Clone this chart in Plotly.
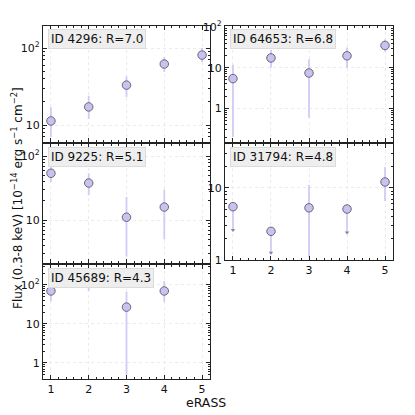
import plotly.graph_objects as go

# ---------------- data ----------------
ids = ["4296", "64653", "9225", "31794", "45689"]
rvals = ["7.0", "6.8", "5.1", "4.8", "4.3"]

erass_1 = [1, 2, 3, 4, 5]
flux_1 = [11.3, 17.2, 33, 62, 81]
lo_1 = [7.0, 12, 23, 49, 66]
hi_1 = [17, 24, 43, 76, 100]
ul_1 = [False, False, False, False, False]

erass_2 = [1, 2, 3, 4, 5]
flux_2 = [5.4, 17.3, 7.4, 19.5, 35]
lo_2 = [0.2, 10, 0.6, 10, 25]
hi_2 = [11.8, 27, 16, 31, 49]
ul_2 = [False, False, False, False, False]

erass_3 = [1, 2, 3, 4]
flux_3 = [54, 38, 11.1, 16]
lo_3 = [39, 24.5, 2.7, 5]
hi_3 = [77, 54, 23, 30]
ul_3 = [False, False, False, False]

erass_4 = [1, 2, 3, 4, 5]
flux_4 = [5.5, 2.5, 5.3, 5.1, 12.1]
lo_4 = [2.6, 1.26, 1.1, 2.4, 6.6]
hi_4 = [5.5, 2.5, 11, 5.1, 19.6]
ul_4 = [True, True, False, True, False]

erass_5 = [1, 2, 3, 4]
flux_5 = [70, 112, 27, 70]
lo_5 = [38, 70, 0.5, 36]
hi_5 = [112, 180, 66, 126]
ul_5 = [False, False, False, False]

y_ticks = [[10, 100], [1, 10, 100], [10, 100], [1, 10], [1, 10, 100]]
y_ticktext = [["10", "10<sup>2</sup>"], ["1", "10", "10<sup>2</sup>"],
              ["10", "10<sup>2</sup>"], ["1", "10"], ["1", "10", "10<sup>2</sup>"]]
x_ticks = [1, 2, 3, 4, 5]
# --------------------------------------

# page body has an 8px default margin; size the figure so it fits the window
OFF = 8
W = H = 415 - OFF
def px_x(a, b):
    return [(a - OFF) / W, (b - OFF) / W]
def px_y(top, bot):
    return [1 - (bot - OFF) / H, 1 - (top - OFF) / H]
def pxx(a):
    return (a - OFF) / W
def pxy(a):
    return 1 - (a - OFF) / H

domains = [
    (px_x(43, 210), px_y(26, 142)),
    (px_x(225, 393), px_y(26, 142)),
    (px_x(43, 210), px_y(144, 263)),
    (px_x(225, 393), px_y(144, 260)),
    (px_x(43, 210), px_y(265, 379)),
]
yranges = [[0.78, 2.286], [-0.82, 2.02], [0.33, 2.19], [0.0, 1.61], [-0.41, 2.51]]
show_xlabels = [False, False, False, True, True]

series = [
    (erass_1, flux_1, lo_1, hi_1, ul_1),
    (erass_2, flux_2, lo_2, hi_2, ul_2),
    (erass_3, flux_3, lo_3, hi_3, ul_3),
    (erass_4, flux_4, lo_4, hi_4, ul_4),
    (erass_5, flux_5, lo_5, hi_5, ul_5),
]

FONT = "DejaVu Sans"
AX = "#222222"
ERR = "#d2cbf8"
MFILL = "#cbc1f0"
MEDGE = "#5a5a6a"
GRID = "#ebebeb"

fig = go.Figure()
layout = dict(
    width=W, height=H,
    margin=dict(l=0, r=0, t=0, b=0, autoexpand=False),
    paper_bgcolor="white", plot_bgcolor="white",
    showlegend=False,
    font=dict(family=FONT, size=11, color="#111111"),
    annotations=[],
)

for i, (xs, fs, los, his, uls) in enumerate(series):
    n = i + 1
    xa = "x" if n == 1 else f"x{n}"
    ya = "y" if n == 1 else f"y{n}"
    plus = [0 if u else h - f for f, h, u in zip(fs, his, uls)]
    minus = [f - l for f, l in zip(fs, los)]
    fig.add_trace(go.Scatter(
        x=xs, y=fs, mode="markers", xaxis=xa, yaxis=ya,
        error_y=dict(type="data", symmetric=False, array=plus, arrayminus=minus,
                     color=ERR, thickness=1.8, width=0),
        marker=dict(size=8.5, color=MFILL, line=dict(color=MEDGE, width=0.9)),
    ))
    ux = [x for x, u in zip(xs, uls) if u]
    uy = [l for l, u in zip(los, uls) if u]
    if ux:
        fig.add_trace(go.Scatter(
            x=ux, y=uy, mode="markers", xaxis=xa, yaxis=ya,
            marker=dict(symbol="triangle-down", size=4, color="#8a84a8"),
        ))
    xd, yd = domains[i]
    xkey = "xaxis" if n == 1 else f"xaxis{n}"
    ykey = "yaxis" if n == 1 else f"yaxis{n}"
    layout[xkey] = dict(
        domain=xd, anchor=ya, range=[0.79, 5.21], automargin=False,
        tickmode="array", tickvals=x_ticks,
        showticklabels=show_xlabels[i],
        ticks="inside", ticklen=4, tickwidth=1, tickcolor=AX,
        minor=dict(ticks="inside", ticklen=2, tickcolor=AX, dtick=0.2, tick0=0, showgrid=False),
        showline=True, linecolor=AX, linewidth=1.2, mirror="allticks",
        showgrid=True, gridcolor=GRID, griddash="dot", gridwidth=1,
        zeroline=False, tickfont=dict(size=11),
    )
    layout[ykey] = dict(
        domain=yd, anchor=xa, type="log", range=yranges[i], automargin=False,
        tickmode="array", tickvals=y_ticks[i], ticktext=y_ticktext[i],
        ticks="inside", ticklen=4, tickwidth=1, tickcolor=AX,
        minor=dict(ticks="inside", ticklen=2, tickcolor=AX, dtick="D1", showgrid=False),
        showline=True, linecolor=AX, linewidth=1.2, mirror="allticks",
        showgrid=True, gridcolor=GRID, griddash="dot", gridwidth=1,
        zeroline=False, tickfont=dict(size=11),
    )
    layout["annotations"].append(dict(
        xref="paper", yref="paper", x=xd[0] + 5 / W, y=yd[1] - 3 / H,
        xanchor="left", yanchor="top", showarrow=False,
        text=f"ID {ids[i]}: R={rvals[i]}",
        font=dict(family=FONT, size=12, color="#111111"),
        bgcolor="#eeeeee", bordercolor="#dcdcdc", borderwidth=1, borderpad=2,
    ))

layout["annotations"].append(dict(
    xref="paper", yref="paper", x=pxx(17), y=pxy(198), textangle=-90,
    xanchor="center", yanchor="middle", showarrow=False,
    text="Flux (0.3-8 keV) [10<sup>\u221214</sup> erg s<sup>\u22121</sup> cm<sup>\u22122</sup>]",
    font=dict(family=FONT, size=12, color="#111111"),
))
layout["annotations"].append(dict(
    xref="paper", yref="paper", x=pxx(206), y=pxy(402),
    xanchor="center", yanchor="middle", showarrow=False,
    text="eRASS", font=dict(family=FONT, size=12.5, color="#111111"),
))

fig.update_layout(**layout)
fig.write_html("out.html")
